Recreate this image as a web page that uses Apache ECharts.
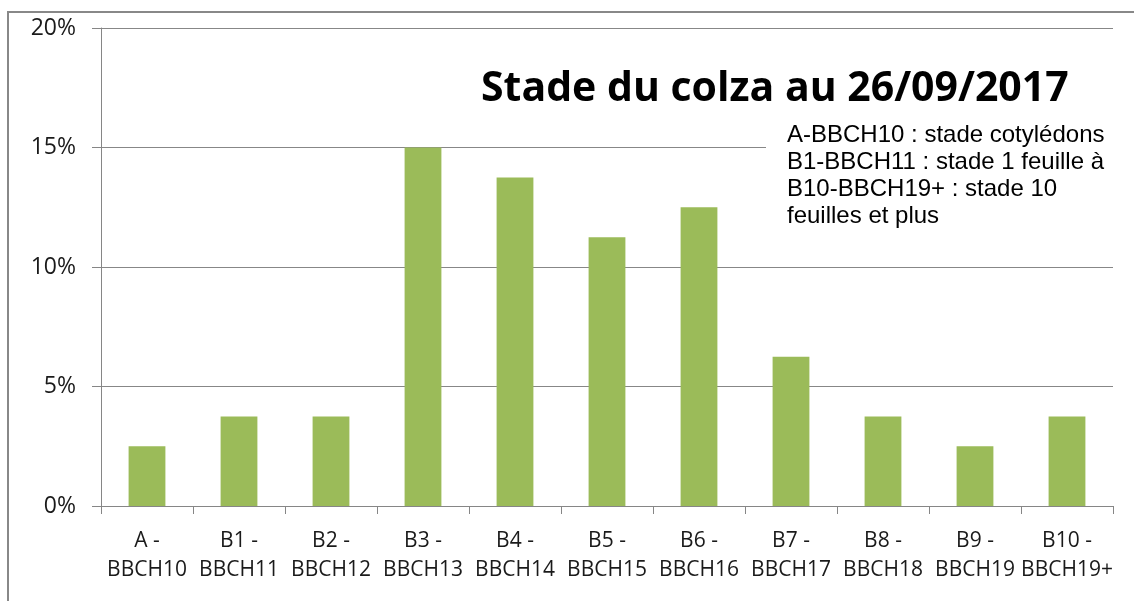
<!DOCTYPE html>
<html>
<head>
<meta charset="utf-8">
<script src="https://cdn.jsdelivr.net/npm/echarts@6/dist/echarts.min.js"></script>
<style>
  html, body { margin: 0; padding: 0; background: #fff; }
  #main { width: 1134px; height: 601px; }
</style>
</head>
<body>
<div id="main"></div>
<script>
// stades du colza
var categories = ['A -\nBBCH10', 'B1 -\nBBCH11', 'B2 -\nBBCH12', 'B3 -\nBBCH13', 'B4 -\nBBCH14',
  'B5 -\nBBCH15', 'B6 -\nBBCH16', 'B7 -\nBBCH17', 'B8 -\nBBCH18', 'B9 -\nBBCH19', 'B10 -\nBBCH19+'];
// pourcentages
var values = [2.5, 3.75, 3.75, 15, 13.75, 11.25, 12.5, 6.25, 3.75, 2.5, 3.75];
var yTicks = [0, 5, 10, 15, 20];
var titre = 'Stade du colza au 26/09/2017';
var legende = ['A-BBCH10 : stade cotylédons', 'B1-BBCH11 : stade 1 feuille à', 'B10-BBCH19+ : stade 10', 'feuilles et plus'];

var chart = echarts.init(document.getElementById('main'));
var option = {
  animation: false,
  backgroundColor: '#fff',
  title: {
    text: titre,
    left: 476,
    top: 64,
    textStyle: { fontFamily: 'Open Sans', fontWeight: 'bold', fontSize: 41, color: '#000' }
  },
  grid: { left: 101, right: 21, top: 28, bottom: 95 },
  xAxis: {
    type: 'category',
    data: categories,
    axisLine: { lineStyle: { color: '#868686', width: 1 } },
    axisTick: { show: true, length: 8, lineStyle: { color: '#868686' } },
    axisLabel: { color: '#1a1a1a', fontFamily: 'Open Sans', fontSize: 21, lineHeight: 29, margin: 21, interval: 0 }
  },
  yAxis: {
    type: 'value',
    min: yTicks[0],
    max: yTicks[yTicks.length - 1],
    interval: 5,
    axisLine: { show: true, lineStyle: { color: '#868686', width: 1 } },
    axisTick: { show: true, length: 9, lineStyle: { color: '#868686' } },
    axisLabel: { formatter: '{value}%', color: '#1a1a1a', fontFamily: 'Open Sans', fontSize: 23, margin: 25 },
    splitLine: { lineStyle: { color: '#878787', width: 1 } }
  },
  series: [{
    type: 'bar',
    data: values,
    barWidth: '40%',
    itemStyle: { color: '#9BBB59' }
  }],
  graphic: [
    {
      type: 'rect',
      shape: { x: 8, y: 12, width: 1200, height: 700 },
      style: { fill: 'none', stroke: '#888', lineWidth: 2 },
      z: 100
    },
    {
      type: 'rect',
      shape: { x: 766, y: 118, width: 347, height: 124 },
      style: { fill: '#fff' },
      z: 99
    },
    {
      type: 'text',
      left: 787,
      top: 122,
      style: {
        text: legende.join('\n'),
        fontFamily: 'Liberation Sans',
        fontSize: 24,
        lineHeight: 27,
        fill: '#000'
      },
      z: 100
    }
  ]
};
chart.setOption(option);
</script>
</body>
</html>
